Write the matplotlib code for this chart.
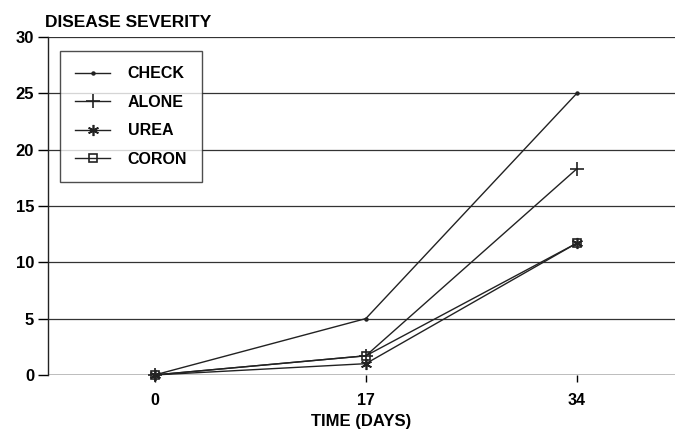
import matplotlib.pyplot as plt

plt.rcParams['font.family'] = ['Liberation Sans', 'DejaVu Sans']
plt.rcParams['font.weight'] = 'bold'

# data
days = [0, 17, 34]
check = [0, 5.0, 25.0]
alone = [0, 1.7, 18.3]
urea = [0, 1.0, 11.7]
coron = [0, 1.7, 11.7]

series = [
    ('CHECK', check, '.', 4),
    ('ALONE', alone, '+', 10),
    ('UREA', urea, (6, 2, 0), 8),
    ('CORON', coron, 's', 6),
]

fig = plt.figure(figsize=(6.75, 4.29), dpi=100)
ax = fig.add_axes([0.071, 0.126, 0.929, 0.788])

for name, vals, mk, ms in series:
    face = 'none' if mk == 's' else '#222222'
    ax.plot(days, vals, color='#222222', lw=1.0, marker=mk, markersize=ms,
            markerfacecolor=face, markeredgecolor='#222222', markeredgewidth=1.2,
            label=name, clip_on=False)

ax.set_xlim(-8.6, 41.9)
ax.set_ylim(0, 30)
ax.set_xticks(days)
ax.set_yticks([0, 5, 10, 15, 20, 25, 30])
ax.grid(axis='y', color='#333333', lw=0.9)
ax.set_axisbelow(True)

for s in ['top', 'right']:
    ax.spines[s].set_visible(False)
ax.spines['bottom'].set_visible(False)
ax.spines['left'].set_color('#222222')
ax.spines['left'].set_linewidth(1.0)
ax.tick_params(axis='y', length=7, width=1, direction='out', labelsize=12, pad=3)
ax.tick_params(axis='x', length=5, width=1, direction='out', labelsize=11.5, pad=8)
ax.axhline(0, color='#222222', lw=1.0)

ax.set_xlabel('TIME (DAYS)', fontsize=12, fontweight='bold', labelpad=4)
fig.text(0.066, 0.948, 'DISEASE SEVERITY', fontsize=12.5, fontweight='bold',
         ha='left', va='center')

leg = ax.legend(loc='upper left', bbox_to_anchor=(0.019, 0.958), frameon=True,
                fancybox=False, edgecolor='#222222', fontsize=11.5,
                handlelength=2.2, labelspacing=0.85, borderpad=0.95,
                handletextpad=1.1, borderaxespad=0)
leg.get_frame().set_linewidth(1.0)

fig.savefig('out.png', dpi=100)
